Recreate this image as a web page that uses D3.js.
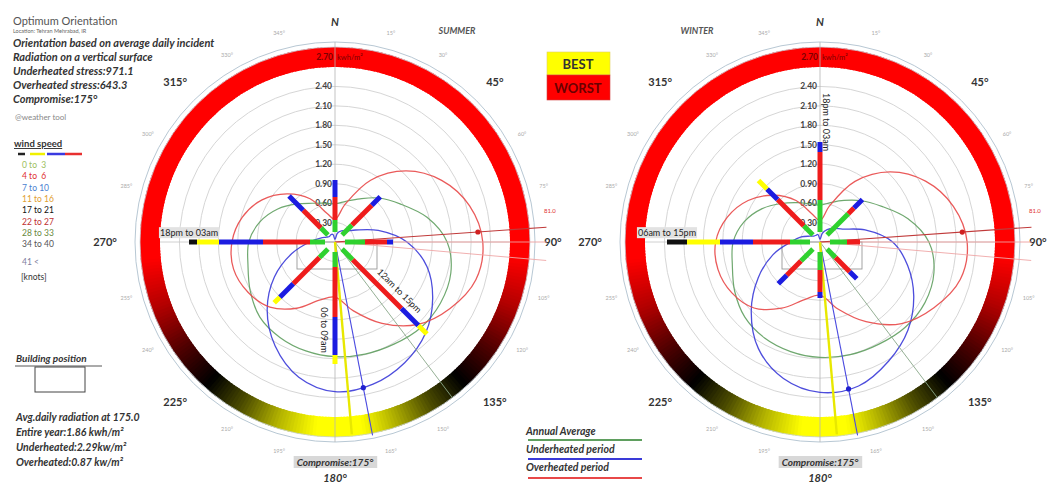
<!DOCTYPE html>
<html><head><meta charset="utf-8">
<script src="https://cdn.jsdelivr.net/npm/d3@7"></script>
<style>
body{margin:0;background:#fff}
svg{display:block}
text{font-family:Lato,"Open Sans","Liberation Sans",sans-serif}
</style>
</head><body>
<svg id="c" width="1049" height="488"></svg>
<script>
// ---------------- DATA ----------------
const curveAngles = [0,15,30,45,60,75,90,105,120,135,150,165,180,195,210,225,240,255,270,285,300,315,330,345];
const summerAnnual = [0.59,0.65,0.77,0.96,1.17,1.47,1.73,1.85,1.88,1.87,1.82,1.79,1.77,1.74,1.70,1.64,1.51,1.39,1.33,1.20,1.02,0.83,0.69,0.62];
const summerUnder  = [0.04,0.14,0.20,0.24,0.37,0.69,1.11,1.47,1.74,1.98,2.15,2.27,2.31,2.16,1.85,1.48,1.08,0.69,0.39,0.23,0.15,0.12,0.13,0.12];
const summerOver   = [0.35,0.60,1.10,1.55,1.90,2.15,2.28,2.25,2.05,1.80,1.45,1.10,0.85,0.93,1.18,1.42,1.55,1.62,1.59,1.48,1.30,1.05,0.77,0.45];
const winterAnnual = [0.57,0.63,0.74,0.90,1.10,1.40,1.68,1.82,1.87,1.86,1.82,1.80,1.78,1.75,1.71,1.64,1.52,1.40,1.34,1.21,1.03,0.84,0.70,0.61];
const winterUnder  = [0.04,0.14,0.22,0.30,0.40,0.72,1.12,1.40,1.67,1.92,2.12,2.30,2.32,2.18,1.90,1.50,1.10,0.75,0.45,0.30,0.18,0.13,0.12,0.12];
const winterOver   = [0.33,0.58,1.08,1.53,1.88,2.13,2.27,2.24,2.03,1.78,1.42,1.07,0.82,0.92,1.18,1.44,1.57,1.63,1.61,1.48,1.28,1.02,0.74,0.44];

const radialTicks = [0.30,0.60,0.90,1.20,1.50,1.80,2.10,2.40];
const radialMax = 2.70;

const windDirections = [0,45,90,135,180,225,270,315];
const windClasses = ["0 to  3","4 to  6","7 to 10","11 to 16","17 to 21","22 to 27","28 to 33","34 to 40","41 <"];
// frequency per class (0-3, 4-6, 7-10, 11-16, 17-21) for each direction
const summerWind = [
  [6,11.5,8.5,0,0],[7,14,6,0,0],[10,11,3,0,0],[7.5,34.5,12,6,0],
  [7.5,25,19,4.5,0],[6,18.5,9.5,4,0],[7.5,23.5,22,11,4],[5,12.5,10,0,0]];
const winterWind = [
  [16,24,5,0,0],[15,4,6,0,0],[8.5,6.5,0,0,0],[6,10,5,0,0],
  [9,11,3,0,0],[8.5,10,6,0,0],[10,18.5,16.5,16.5,10],[6.5,18.5,7.5,6,0]];
const summerWindLabels = [[270,"18pm to 03am"],[135,"12am to 15pm"],[180,"06 to 09am"]];
const winterWindLabels = [[270,"06am to 15pm"],[0,"18pm to 03am"]];

// orientation score around the ring (1 = worst, 0 = best)
const ringAngles = [0,95,110,125,138,150,162,172,186,198,210,222,235,250,265,360];
const ringScores = [1,1,0.85,0.65,0.5,0.35,0.15,0,0,0.15,0.35,0.5,0.65,0.85,1,1];

const compassAngles = [0,45,90,135,180,225,270,315];
const compassLabels = ["N","45°","90°","135°","180°","225°","270°","315°"];

const compromiseAngle = 175;
const summerMarkers = {over:[86,2.21], under:[169,2.29], annual:143, overLabel:"81.0"};
const winterMarkers = {over:[86,2.20], under:[169,2.31], annual:143, overLabel:"81.0"};

const infoLines = ["Orientation based on average daily incident","Radiation on a vertical surface","Underheated stress:971.1","Overheated stress:643.3","Compromise:175°"];
const avgLines = ["Avg.daily radiation at 175.0","Entire year:1.86 kwh/m²","Underheated:2.29kw/m²","Overheated:0.87 kw/m²"];
const legendLines = ["Annual Average","Underheated period","Overheated period"];

// ---------------- STYLE ----------------
const classColors = ["#2fd12f","#ee1c1c","#1c1ce0","#ffff00","#111111","#a01010","#6a8a40","#444444","#8080a0"];
const legendTextColors = ["#9cc060","#e03030","#4a7fd0","#e0a030","#111","#c03030","#6a8a40","#555","#8080a0"];
const cGreen = "#5f9f5f", cBlue = "#3a3ad8", cRed = "#e84848";

// ---------------- DRAW ----------------
const svg = d3.select("#c");
const rScale = d3.scaleLinear().domain([0, radialMax]).range([0, 175]);
const windScale = d3.scaleLinear().domain([0, 70]).range([10, 150]);
const ringColor = d3.scaleLinear().domain([0,0.5,1]).range(["#ffff00","#000000","#ff0000"]);
const ringScore = d3.scaleLinear().domain(ringAngles).range(ringScores);
const rad = d => d*Math.PI/180;
const P = (a, r) => [r*Math.sin(rad(a)), -r*Math.cos(rad(a))];
const txtCol = "#333";
const compassR = a => a===0 ? 220 : a===180 ? 236 : a===90 ? 218 : a===270 ? 230 : 226;

function drawChart(cx, cy, cfg) {
  const g = svg.append("g").attr("transform", `translate(${cx},${cy})`);
  g.append("circle").attr("r", 200).attr("fill","none").attr("stroke","#b8c8d4").attr("stroke-width",1);
  const arc = d3.arc();
  d3.range(0,360,1).forEach(a => {
    g.append("path")
      .attr("d", arc({innerRadius:175, outerRadius:195, startAngle: rad(a-0.3), endAngle: rad(a+1.3)}))
      .attr("fill", ringColor(ringScore(a+0.5)));
  });
  g.append("circle").attr("r", 195).attr("fill","none").attr("stroke","#c8d0d8").attr("stroke-width",0.8);
  // grid
  g.selectAll("circle.grid").data(radialTicks).enter().append("circle").attr("class","grid")
    .attr("r", d => rScale(d)).attr("fill","none").attr("stroke","#d6d6d6").attr("stroke-width",1);
  g.append("line").attr("x1",0).attr("y1",-200).attr("x2",0).attr("y2",200).attr("stroke","#b4b4b4").attr("stroke-width",0.8);
  g.append("line").attr("x1",-175).attr("y1",0).attr("x2",175).attr("y2",0).attr("stroke","#c4c4c4").attr("stroke-width",0.8);
  // small degree labels
  const minor = d3.range(15,360,15).filter(a => a % 45);
  g.selectAll("text.minor").data(minor).enter().append("text").attr("class","minor")
    .attr("x", a => P(a,216)[0]).attr("y", a => P(a,216)[1]+2)
    .attr("text-anchor","middle").attr("font-size",5.5).attr("fill","#aaa").text(a => a+"°");
  // compass labels
  g.selectAll("text.comp").data(compassAngles).enter().append("text").attr("class","comp")
    .attr("x", a => P(a, compassR(a))[0])
    .attr("y", a => P(a, compassR(a))[1]+4)
    .attr("text-anchor","middle").attr("font-size",11).attr("font-weight","bold")
    .attr("font-style", (a,i)=> i===0||i===4?"italic":"normal")
    .attr("fill",txtCol).text((a,i)=>compassLabels[i]);
  // radial tick labels
  g.selectAll("text.rt").data(radialTicks).enter().append("text").attr("class","rt")
    .attr("x",-3).attr("y", d => -rScale(d)+3).attr("text-anchor","end")
    .attr("font-size",8.5).attr("font-weight","bold").attr("fill","#444").text(d => d3.format(".2f")(d));
  g.append("text").attr("x",-2).attr("y",-182).attr("text-anchor","end").attr("font-size",8.5)
    .attr("font-weight","bold").attr("fill","#7a0000").text(d3.format(".2f")(radialMax));
  g.append("text").attr("x",2).attr("y",-182).attr("text-anchor","start").attr("font-size",7.5)
    .attr("fill","#7a0000").text("kwh/m²");
  // building
  g.append("rect").attr("x",-38).attr("y",0).attr("width",80).attr("height",27)
    .attr("fill","none").attr("stroke","#999").attr("stroke-width",0.9);
  // curves
  const line = d3.lineRadial().angle(d => rad(d[0])).radius(d => rScale(d[1])).curve(d3.curveCatmullRomClosed.alpha(0.5));
  const series = [[cfg.annual,cGreen,1.2],[cfg.under,cBlue,1.3],[cfg.over,cRed,1.3]];
  series.forEach(([vals,col,w]) => {
    g.append("path").attr("d", line(curveAngles.map((a,i)=>[a, vals[i]])))
      .attr("fill","none").attr("stroke",col).attr("stroke-width",w).attr("opacity",0.9);
  });
  // marker lines
  const ray = (a, r, col, w, op) => {
    const p = P(a, r);
    g.append("line").attr("x1",0).attr("y1",0).attr("x2",p[0]).attr("y2",p[1])
      .attr("stroke",col).attr("stroke-width",w).attr("opacity",op);
  };
  ray(90, 212, "#f0a0a0", 1, 0.9);
  ray(95, 212, "#f0a8a8", 1, 0.9);
  ray(cfg.markers.annual, 195, "#8aa88a", 1, 0.9);
  ray(cfg.markers.over[0], 212, "#c03a3a", 1.1, 1);
  ray(cfg.markers.under[0], 197, "#4a4ae0", 1.1, 1);
  ray(compromiseAngle, 193, "#e8e800", 2.4, 1);
  const po = P(cfg.markers.over[0], rScale(cfg.markers.over[1]));
  g.append("circle").attr("cx",po[0]).attr("cy",po[1]).attr("r",2.6).attr("fill","#d02020");
  const pu = P(cfg.markers.under[0], rScale(cfg.markers.under[1]));
  g.append("circle").attr("cx",pu[0]).attr("cy",pu[1]).attr("r",2.6).attr("fill","#2020d0");
  const pl = P(cfg.markers.over[0]-4, 211);
  g.append("text").attr("x",pl[0]).attr("y",pl[1]).attr("font-size",6).attr("fill","#e03030")
    .attr("text-anchor","start").text(cfg.markers.overLabel);
  // wind bars
  windDirections.forEach((dir, di) => {
    let acc = 0;
    cfg.wind[di].forEach((v, ci) => {
      if (v <= 0) return;
      const a = P(dir, windScale(acc)), b = P(dir, windScale(acc+v));
      g.append("line").attr("x1",a[0]).attr("y1",a[1]).attr("x2",b[0]).attr("y2",b[1])
        .attr("stroke",classColors[ci]).attr("stroke-width",5);
      acc += v;
    });
  });
  // wind labels
  cfg.windLabels.forEach(([dir, label]) => {
    const di = windDirections.indexOf(dir);
    const total = d3.sum(cfg.wind[di]);
    const lay = cfg.labelLayout[dir];
    const along = lay.along != null ? lay.along : windScale(total);
    const c = P(dir, along);
    const perp = [Math.cos(rad(dir)), Math.sin(rad(dir))];
    const x = c[0] + perp[0]*lay.off, y = c[1] + perp[1]*lay.off;
    const t = g.append("text").attr("transform",`translate(${x},${y}) rotate(${lay.rot})`)
      .attr("text-anchor","middle").attr("dy","0.35em").attr("font-size",9).attr("fill","#222").text(label);
    if (lay.box) {
      const bb = t.node().getBBox();
      g.insert("rect","text:last-child").attr("x",x+bb.x-1).attr("y",y+bb.y).attr("width",bb.width+2).attr("height",bb.height)
        .attr("fill","#e2e2e2");
      t.raise();
    }
  });
  // compromise label
  const ct = g.append("text").attr("x",0).attr("y",224).attr("text-anchor","middle").attr("font-size",10)
    .attr("font-weight","bold").attr("font-style","italic").attr("fill","#333").text("Compromise:"+compromiseAngle+"°");
  const cb = ct.node().getBBox();
  g.insert("rect",":last-child").attr("x",cb.x-3).attr("y",cb.y).attr("width",cb.width+6).attr("height",cb.height)
    .attr("fill","#d8d8d8");
  ct.raise();
  // season title
  g.append("text").attr("x",cfg.titleX).attr("y",-208).attr("text-anchor","middle").attr("font-size",9)
    .attr("font-weight","bold").attr("font-style","italic").attr("fill","#555").text(cfg.title);
}

drawChart(335, 242, {annual:summerAnnual, under:summerUnder, over:summerOver, wind:summerWind,
  windLabels:summerWindLabels, markers:summerMarkers, title:"SUMMER", titleX:122,
  labelLayout:{270:{off:9,rot:0,box:true}, 135:{along:80,off:-11,rot:45}, 180:{along:88,off:11,rot:90}}});
drawChart(820, 242, {annual:winterAnnual, under:winterUnder, over:winterOver, wind:winterWind,
  windLabels:winterWindLabels, markers:winterMarkers, title:"WINTER", titleX:-123,
  labelLayout:{270:{off:9,rot:0,box:true}, 0:{along:120,off:6,rot:90}}});

// ---- top-left text ----
const tl = svg.append("g");
tl.append("text").attr("x",13).attr("y",25).attr("font-size",11).attr("fill","#555").text("Optimum Orientation");
tl.append("text").attr("x",13).attr("y",33).attr("font-size",5.5).attr("fill","#666").text("Location: Tehran Mehrabad, IR");
tl.selectAll("text.info").data(infoLines).enter().append("text").attr("class","info")
  .attr("x",13).attr("y",(d,i)=>47+i*14).attr("font-size",11).attr("font-weight","bold").attr("font-style","italic")
  .attr("fill","#333").text(d=>d);
tl.append("text").attr("x",15).attr("y",120).attr("font-size",8).attr("fill","#888").text("@weather tool");

// ---- wind legend ----
const wl = svg.append("g");
wl.append("text").attr("x",14).attr("y",147).attr("font-size",9.5).attr("font-weight","bold").attr("fill","#333")
  .attr("text-decoration","underline").text("wind speed");
[["#222",18,25],["#f0f000",30,45],["#3a3ae0",47,65],["#e83030",65,82]].forEach(([c,x1,x2]) =>
  wl.append("line").attr("x1",x1).attr("x2",x2).attr("y1",154).attr("y2",154).attr("stroke",c).attr("stroke-width",2.5));
wl.selectAll("text.cls").data(windClasses).enter().append("text").attr("class","cls")
  .attr("x",22).attr("y",(d,i)=> i<8 ? 168+i*11.3 : 265).attr("font-size",8.5).attr("fill",(d,i)=>legendTextColors[i])
  .attr("xml:space","preserve").text(d=>d);
wl.append("text").attr("x",21).attr("y",280).attr("font-size",8.5).attr("fill","#333").text("[knots]");

// ---- building position ----
const bp = svg.append("g");
bp.append("text").attr("x",16).attr("y",362).attr("font-size",10).attr("font-weight","bold").attr("font-style","italic")
  .attr("fill","#333").text("Building position");
bp.append("line").attr("x1",15).attr("x2",102).attr("y1",366).attr("y2",366).attr("stroke","#444").attr("stroke-width",0.9);
bp.append("rect").attr("x",35).attr("y",367).attr("width",50).attr("height",25).attr("fill","none").attr("stroke","#444").attr("stroke-width",1);

// ---- avg radiation text ----
svg.selectAll("text.avg").data(avgLines).enter().append("text").attr("class","avg")
  .attr("x",16).attr("y",(d,i)=>421+i*15).attr("font-size",10.5).attr("font-weight","bold").attr("font-style","italic")
  .attr("fill","#333").text(d=>d);

// ---- BEST / WORST ----
const bw = svg.append("g");
bw.append("rect").attr("x",547).attr("y",52).attr("width",63).attr("height",23).attr("fill","#ffff00").attr("stroke","#e0d060").attr("stroke-width",0.6);
bw.append("rect").attr("x",547).attr("y",75).attr("width",63).attr("height",25).attr("fill","#ff0000").attr("stroke","#d04040").attr("stroke-width",0.6);
bw.append("text").attr("x",578).attr("y",69).attr("text-anchor","middle").attr("font-size",13).attr("font-weight","bold").attr("fill","#333").text("BEST");
bw.append("text").attr("x",578).attr("y",93).attr("text-anchor","middle").attr("font-size",13).attr("font-weight","bold").attr("fill","#6a0000").text("WORST");

// ---- bottom legend ----
const lg = svg.append("g");
const lgCols = [cGreen, cBlue, cRed];
legendLines.forEach((t,i) => {
  lg.append("text").attr("x",526).attr("y",435+i*18).attr("font-size",10.5).attr("font-weight","bold").attr("font-style","italic")
    .attr("fill","#333").text(t);
  lg.append("line").attr("x1",528).attr("x2",642).attr("y1",440+i*19).attr("y2",440+i*19)
    .attr("stroke",lgCols[i]).attr("stroke-width",2);
});
</script>
</body></html>
